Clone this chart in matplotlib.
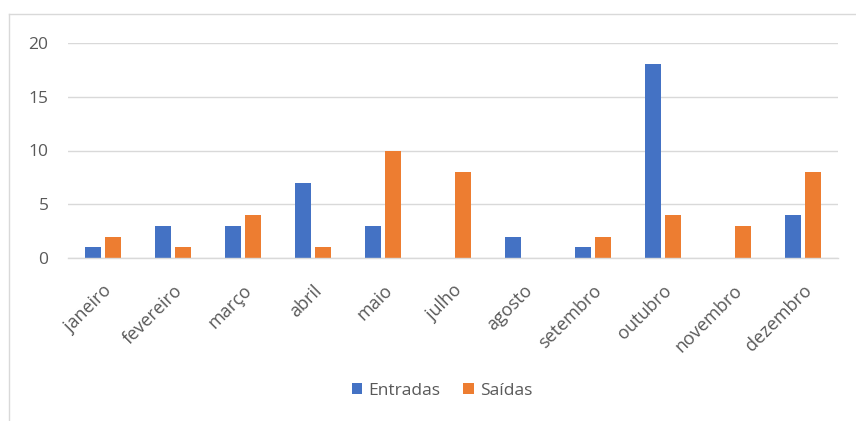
import matplotlib
matplotlib.use('Agg')
import matplotlib.pyplot as plt
import numpy as np
from matplotlib.lines import Line2D

# data
meses = ['janeiro', 'fevereiro', 'março', 'abril', 'maio', 'julho',
         'agosto', 'setembro', 'outubro', 'novembro', 'dezembro']
entradas = [1, 3, 3, 7, 3, 0, 2, 1, 18, 0, 4]
saidas = [2, 1, 4, 1, 10, 8, 0, 2, 4, 3, 8]
y_ticks = [0, 5, 10, 15, 20]

plt.rcParams['font.family'] = ['Open Sans', 'DejaVu Sans']

W, H = 856, 421
fig = plt.figure(figsize=(W / 100, H / 100), dpi=100)
ax = fig.add_axes([68 / W, 1 - 258 / H, (838 - 68) / W, (258 - 43) / H])

x = np.arange(len(meses))
bw = 0.23
ax.bar(x - 0.145, entradas, bw, color='#4472c4', label='Entradas', zorder=3)
ax.bar(x + 0.145, saidas, bw, color='#ed7d31', label='Saídas', zorder=3)

fs = 12.5
ax.set_xlim(-0.5, len(meses) - 0.5)
ax.set_ylim(0, 20)
ax.set_yticks(y_ticks)
ax.set_yticklabels([str(v) for v in y_ticks], fontsize=fs, color='#595959')
ax.set_xticks(x)
ax.set_xticklabels(meses, rotation=45, ha='right', rotation_mode='anchor',
                   fontsize=13, color='#595959')
ax.tick_params(axis='both', length=0)
ax.tick_params(axis='y', pad=14)
ax.tick_params(axis='x', pad=17)
ax.grid(axis='y', color='#d9d9d9', linewidth=1, zorder=0)
for s in ['top', 'right', 'left']:
    ax.spines[s].set_visible(False)
ax.spines['bottom'].set_color('#d9d9d9')
ax.spines['bottom'].set_linewidth(1)
ax.spines['bottom'].set_zorder(4)

fig.legend(loc='center', bbox_to_anchor=(442 / W, 1 - 391 / H), ncol=2,
           frameon=False, fontsize=fs, handlelength=0.6, handleheight=0.6,
           columnspacing=1.3, handletextpad=0.35, labelcolor='#595959')

# outer chart border (cropped on right/bottom)
fig.add_artist(Line2D([9 / W, 9 / W], [0, 1 - 14 / H], transform=fig.transFigure,
                      color='#d9d9d9', linewidth=1))
fig.add_artist(Line2D([9 / W, 1], [1 - 14 / H, 1 - 14 / H], transform=fig.transFigure,
                      color='#d9d9d9', linewidth=1))

fig.savefig('out.png', dpi=100)
